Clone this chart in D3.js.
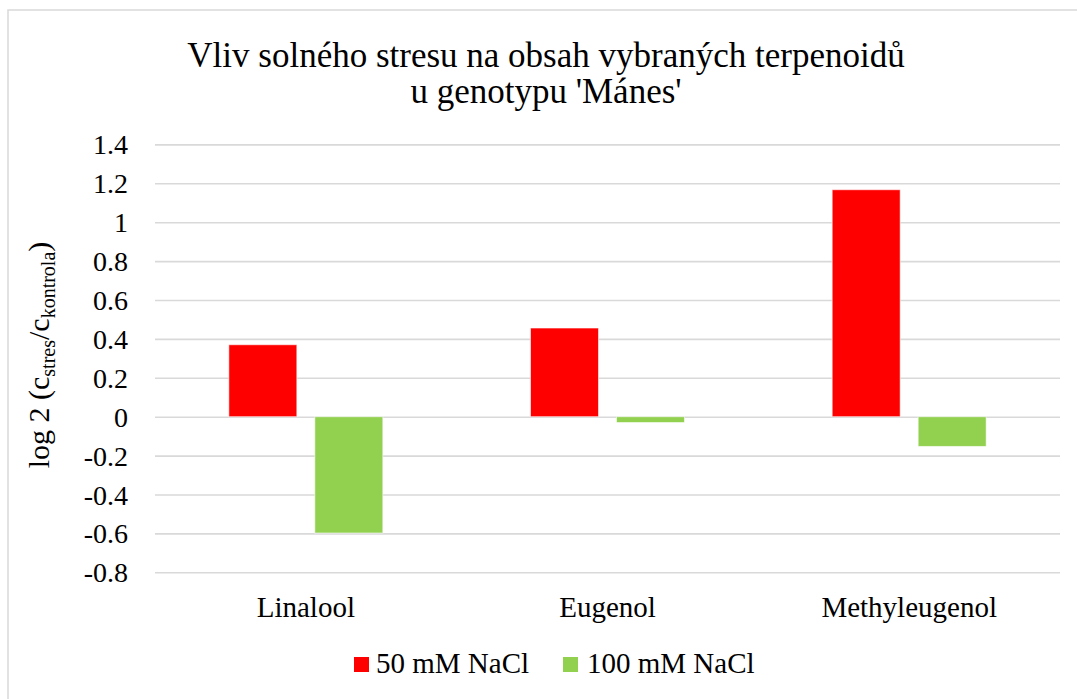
<!DOCTYPE html>
<html>
<head>
<meta charset="utf-8">
<script src="https://cdn.jsdelivr.net/npm/d3@7"></script>
<style>
  html, body { margin: 0; padding: 0; background: #fff; }
  svg { display: block; }
</style>
</head>
<body>
<svg id="chart" width="1077" height="699"></svg>
<script>
const categories = ["Linalool", "Eugenol", "Methyleugenol"];
const seriesNames = ["50 mM NaCl", "100 mM NaCl"];
const values50 = [0.37, 0.456, 1.167];
const values100 = [-0.598, -0.03, -0.153];
const yTicks = [-0.8, -0.6, -0.4, -0.2, 0, 0.2, 0.4, 0.6, 0.8, 1, 1.2, 1.4];
const yTickLabels = ["-0.8", "-0.6", "-0.4", "-0.2", "0", "0.2", "0.4", "0.6", "0.8", "1", "1.2", "1.4"];
const titleLines = ["Vliv solného stresu na obsah vybraných terpenoidů", "u genotypu 'Mánes'"];
const colors = ["#FF0000", "#92D050"];

const FONT = "\"Liberation Serif\", \"Times New Roman\", serif";
const svg = d3.select("#chart");
const W = 1077, H = 699;
const plot = { left: 155, right: 1060, top: 144.4, bottom: 572.3 };

// outer border
svg.append("rect").attr("x", 8).attr("y", 10).attr("width", W + 20).attr("height", H + 20)
  .attr("fill", "#fff").attr("stroke", "#d9d9d9").attr("stroke-width", 1.5);

const y = d3.scaleLinear().domain([-0.8, 1.4]).range([plot.bottom, plot.top]);
const x0 = d3.scaleBand().domain(categories).range([plot.left, plot.right]).padding(0);
const groupW = 154;
const x1 = d3.scaleBand().domain(seriesNames)
  .range([x0.bandwidth() / 2 - groupW / 2, x0.bandwidth() / 2 + groupW / 2])
  .paddingInner(0.209).paddingOuter(0);

// gridlines + tick labels
const yAxis = d3.axisLeft(y).tickValues(yTicks).tickSize(-(plot.right - plot.left))
  .tickFormat((d, i) => yTickLabels[i]);
const gAxis = svg.append("g").attr("transform", `translate(${plot.left},0)`).call(yAxis);
gAxis.attr("font-family", null).attr("font-size", null);
gAxis.select(".domain").remove();
gAxis.selectAll(".tick line").attr("stroke", "#d9d9d9").attr("stroke-width", 1.6);
gAxis.selectAll(".tick text")
  .attr("x", 128 - plot.left).attr("dy", "0.34em")
  .style("font-family", FONT)
  .style("font-size", "28px").attr("fill", "#000");

// bars
const data = categories.map((c, i) => ({ cat: c, vals: [values50[i], values100[i]] }));
const groups = svg.append("g").selectAll("g").data(data).join("g")
  .attr("transform", d => `translate(${x0(d.cat)},0)`);
groups.selectAll("rect").data(d => d.vals.map((v, j) => ({ v, s: seriesNames[j], j })))
  .join("rect")
  .attr("x", d => x1(d.s))
  .attr("width", x1.bandwidth())
  .attr("y", d => Math.min(y(d.v), y(0)))
  .attr("height", d => Math.abs(y(d.v) - y(0)))
  .attr("fill", d => colors[d.j])
  .attr("stroke", "#fff").attr("stroke-opacity", 0.6).attr("stroke-width", 1);

// category labels
svg.append("g").selectAll("text").data(categories).join("text")
  .attr("x", d => x0(d) + x0.bandwidth() / 2)
  .attr("y", 617)
  .attr("text-anchor", "middle")
  .style("font-family", FONT)
  .style("font-size", "29px")
  .attr("fill", "#000")
  .text(d => d);

// title
svg.append("g").selectAll("text").data(titleLines).join("text")
  .attr("x", 546)
  .attr("y", (d, i) => 67 + i * 36)
  .attr("text-anchor", "middle")
  .style("font-family", FONT)
  .style("font-size", "35px")
  .attr("fill", "#000")
  .text(d => d);

// y-axis title
const yt = svg.append("text")
  .attr("transform", "translate(49,355) rotate(-90)")
  .attr("text-anchor", "middle")
  .style("font-family", FONT)
  .style("font-size", "30px")
  .attr("fill", "#000");
yt.append("tspan").text("log 2 (c");
yt.append("tspan").attr("dy", 6).style("font-size", "20px").text("stres");
yt.append("tspan").attr("dy", -6).text("/c");
yt.append("tspan").attr("dy", 6).style("font-size", "20px").text("kontrola");
yt.append("tspan").attr("dy", -6).text(")");

// legend
const legendX = [354, 563];
const leg = svg.append("g").selectAll("g").data(seriesNames).join("g")
  .attr("transform", (d, i) => `translate(${legendX[i]},657)`);
leg.append("rect").attr("width", 15).attr("height", 15).attr("fill", (d, i) => colors[i]);
leg.append("text").attr("x", (d, i) => i === 0 ? 22 : 24).attr("y", 16)
  .style("font-family", FONT)
  .style("font-size", "29px")
  .attr("fill", "#000")
  .text(d => d);
</script>
</body>
</html>
